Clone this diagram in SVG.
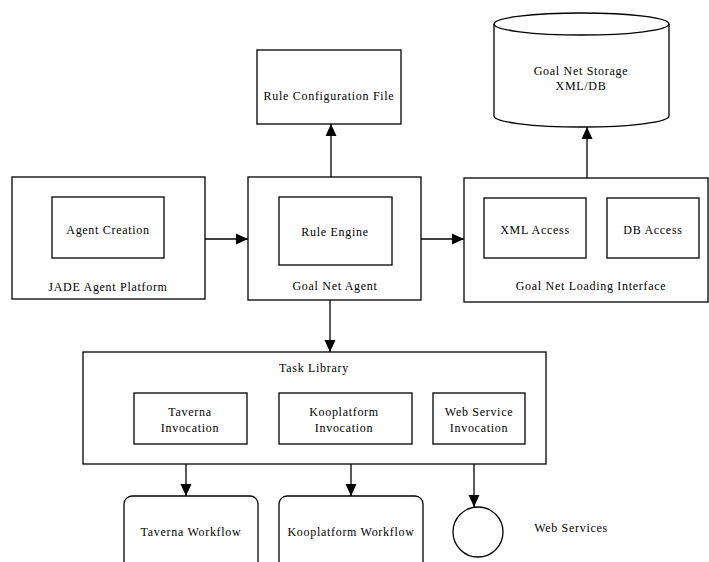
<svg xmlns="http://www.w3.org/2000/svg" width="709" height="562" viewBox="0 0 709 562">
<style>
.b{fill:#fff;stroke:#000;stroke-width:1.3}
.t{font-family:"Liberation Serif","DejaVu Serif",serif;font-size:12px;letter-spacing:0.7px;fill:#000;text-anchor:middle}
.c{stroke:#000;stroke-width:1.3;fill:none;marker-end:url(#ah)}
</style>
<defs>
<marker id="ah" markerUnits="userSpaceOnUse" markerWidth="12" markerHeight="12" viewBox="0 0 12 12" refX="12" refY="6" orient="auto">
<path d="M0,0.5 L12,6 L0,11.5 Z" fill="#000"/>
</marker>
</defs>
<rect width="709" height="562" fill="#fff"/>
<g id="connectors">
<line class="c" x1="205" y1="239" x2="248" y2="239"/>
<line class="c" x1="421" y1="239" x2="464" y2="239"/>
<line class="c" x1="331" y1="177" x2="331" y2="124"/>
<line class="c" x1="587" y1="178" x2="587" y2="127"/>
<line class="c" x1="330" y1="300" x2="330" y2="352"/>
<line class="c" x1="186" y1="444" x2="186" y2="496"/>
<line class="c" x1="351" y1="444" x2="351" y2="496"/>
<line class="c" x1="474" y1="444" x2="474" y2="507"/>
</g>
<g id="rule-config">
<rect class="b" x="257" y="50" width="144" height="74"/>
<text class="t" x="329" y="100">Rule Configuration File</text>
</g>
<g id="storage">
<path class="b" d="M494,24 L494,116 A87.5,11 0 0 0 669,116 L669,24"/>
<ellipse class="b" cx="581.5" cy="24" rx="87.5" ry="11"/>
<text class="t" x="581" y="75">Goal Net Storage</text>
<text class="t" x="581" y="90">XML/DB</text>
</g>
<g id="jade">
<rect class="b" x="12" y="177" width="193" height="122"/>
<text class="t" x="108" y="291">JADE Agent Platform</text>
</g>
<g id="agent-creation">
<rect class="b" x="52" y="197" width="112" height="61"/>
<text class="t" x="108" y="234">Agent Creation</text>
</g>
<g id="goal-net-agent">
<rect class="b" x="248" y="177" width="173" height="123"/>
<text class="t" x="335" y="290">Goal Net Agent</text>
</g>
<g id="rule-engine">
<rect class="b" x="279" y="197" width="113" height="68"/>
<text class="t" x="335" y="236">Rule Engine</text>
</g>
<g id="loading">
<rect class="b" x="464" y="178" width="244" height="124"/>
<text class="t" x="591" y="290">Goal Net Loading Interface</text>
</g>
<g id="xml-access">
<rect class="b" x="484" y="198" width="102" height="60"/>
<text class="t" x="535" y="234">XML Access</text>
</g>
<g id="db-access">
<rect class="b" x="607" y="198" width="92" height="60"/>
<text class="t" x="653" y="234">DB Access</text>
</g>
<g id="task-library">
<rect class="b" x="83" y="352" width="463" height="112"/>
<text class="t" x="314" y="372">Task Library</text>
</g>
<g id="taverna-inv">
<rect class="b" x="134" y="393" width="113" height="51"/>
<text class="t" x="190" y="416">Taverna</text>
<text class="t" x="190" y="432">Invocation</text>
</g>
<g id="koop-inv">
<rect class="b" x="279" y="393" width="133" height="51"/>
<text class="t" x="344" y="416">Kooplatform</text>
<text class="t" x="344" y="432">Invocation</text>
</g>
<g id="ws-inv">
<rect class="b" x="433" y="393" width="92" height="51"/>
<text class="t" x="479" y="416">Web Service</text>
<text class="t" x="479" y="432">Invocation</text>
</g>
<g id="taverna-wf">
<rect class="b" x="124" y="496" width="134" height="90" rx="8"/>
<text class="t" x="191" y="536">Taverna Workflow</text>
</g>
<g id="koop-wf">
<rect class="b" x="279" y="496" width="144" height="90" rx="8"/>
<text class="t" x="351" y="536">Kooplatform Workflow</text>
</g>
<g id="web-services">
<circle class="b" cx="478" cy="532" r="25"/>
<text class="t" x="571" y="532">Web Services</text>
</g>
</svg>
